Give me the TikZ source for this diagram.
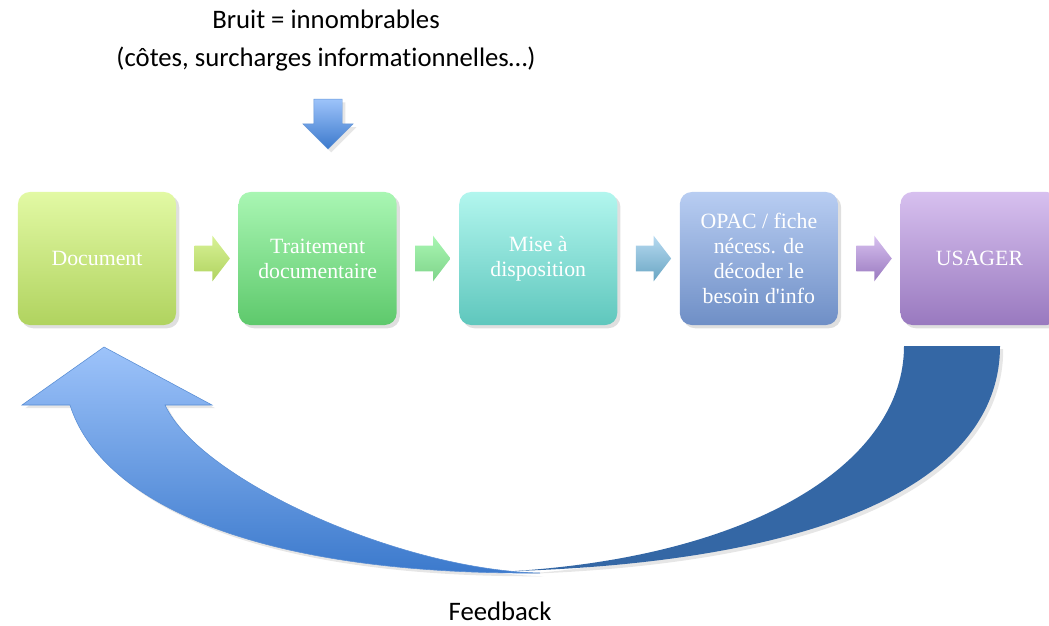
\documentclass[tikz,border=0pt]{standalone}
\usepackage{fontspec}
\setmainfont{Liberation Serif}
\newfontfamily\calibri[Ligatures=NoCommon]{Carlito}
\usetikzlibrary{positioning,shapes.arrows,shadows,calc}

\definecolor{docA}{HTML}{E2F9A4}
\definecolor{docB}{HTML}{B0D35F}
\definecolor{traitA}{HTML}{A9F6B3}
\definecolor{traitB}{HTML}{5EC96C}
\definecolor{miseA}{HTML}{B2F6EE}
\definecolor{miseB}{HTML}{5FC7BD}
\definecolor{opacA}{HTML}{B8CDF2}
\definecolor{opacB}{HTML}{6F8FC6}
\definecolor{usaA}{HTML}{D7C0EF}
\definecolor{usaB}{HTML}{9979BF}
\definecolor{bleuA}{HTML}{9DC3FA}
\definecolor{bleuB}{HTML}{3B79CC}
\definecolor{bleuF}{HTML}{3467A5}

\begin{document}
\begin{tikzpicture}[x=0.025cm, y=-0.025cm,
    etape/.style={rounded corners=0.3cm, minimum width=3.95cm, minimum height=3.325cm,
        align=center, text=white, font=\fontsize{15.5}{17.8}\selectfont,
        drop shadow={opacity=0.25}},
    fleche/.style={single arrow, single arrow tip angle=105, single arrow head extend=0.25cm,
        minimum height=0.85cm, inner sep=0.3125cm, draw=none},
    legende/.style={font=\calibri\fontsize{19}{27}\selectfont, align=center}]
    \useasboundingbox (0,0) rectangle (1049,625);
    \clip (0,0) rectangle (1049,625);

    % chaine
    \node[etape, top color=docA, bottom color=docB] (doc) at (97,258.5) {Document};
    \node[etape, top color=traitA, bottom color=traitB, right=1.55cm of doc] (trait) {Traitement\\documentaire};
    \node[etape, top color=miseA, bottom color=miseB, right=1.55cm of trait] (mise) {Mise à\\disposition};
    \node[etape, top color=opacA, bottom color=opacB, right=1.55cm of mise] (opac) {OPAC / fiche\\nécess. de\\décoder le\\besoin d\textquotesingle info};
    \node[etape, top color=usaA, bottom color=usaB, right=1.55cm of opac] (usager) {USAGER};

    \node[fleche, top color=docA!80!docB, bottom color=docB] (f1) at ($(doc.east)!0.5!(trait.west)$) {};
    \node[fleche, top color=traitA, bottom color=traitB!80!white] (f2) at ($(trait.east)!0.5!(mise.west)$) {};
    \node[fleche, top color=opacA!70!miseA, bottom color=opacB!60!miseB] (f3) at ($(mise.east)!0.5!(opac.west)$) {};
    \node[fleche, top color=usaA, bottom color=usaB] (f4) at ($(opac.east)!0.5!(usager.west)$) {};

    % bruit
    \node[legende] (bruit) at (326,41) {Bruit = innombrables\\(côtes, surcharges informationnelles…)};
    \node[single arrow, shape border rotate=270, single arrow tip angle=90,
        single arrow head extend=0.275cm, minimum height=1.25cm, inner sep=0.35cm,
        top color=bleuA, bottom color=bleuB, draw=bleuB!80!white, line width=0.3pt,
        drop shadow={opacity=0.2}] (bas) at (328,117) {};

    % retour
    \shade[top color=bleuA, bottom color=bleuB, draw=bleuB!85!white, line width=0.4pt,
        drop shadow={opacity=0.2}]
        (104,347) -- (212,405) -- (165,405)
        .. controls (200,480) and (400,570) .. (540,573)
        .. controls (250,575) and (100,500) .. (70,405)
        -- (22,405) -- cycle;
    \fill[bleuF, drop shadow={opacity=0.2}]
        (904,346) -- (1000,346)
        .. controls (1000,470) and (850,560) .. (515,571)
        .. controls (760,555) and (904,460) .. (904,346) -- cycle;
    \node[legende] (retour) at (500,611) {Feedback};
\end{tikzpicture}
\end{document}
